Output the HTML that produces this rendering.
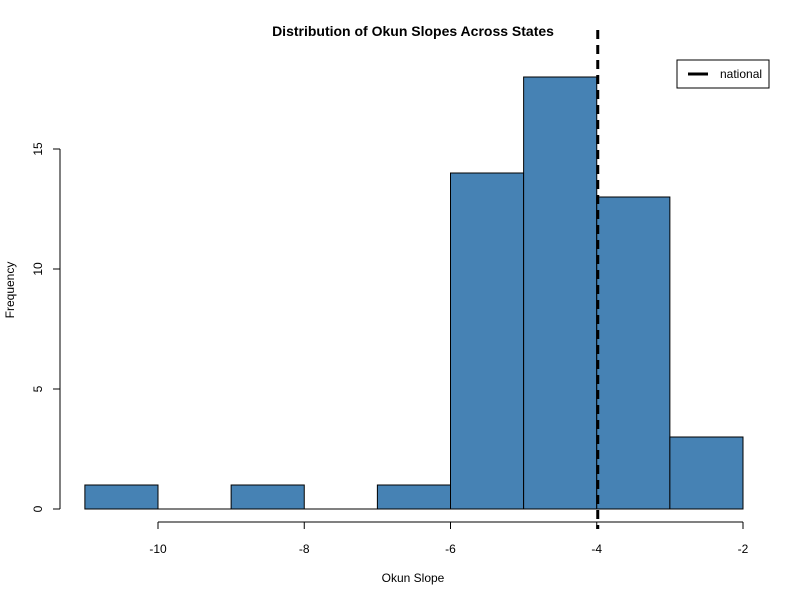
<!DOCTYPE html>
<html><head><meta charset="utf-8"><style>body{margin:0;background:#fff}svg{display:block;font-family:"Liberation Sans",Arial,sans-serif}</style></head>
<body>
<svg id="chart" width="800" height="600" viewBox="0 0 800 600">
<rect width="800" height="600" fill="#fff"/>
<text x="413" y="36" text-anchor="middle" font-size="14" font-weight="bold">Distribution of Okun Slopes Across States</text>
<text x="413" y="582" text-anchor="middle" font-size="12">Okun Slope</text>
<text transform="translate(14,290) rotate(-90)" text-anchor="middle" font-size="12">Frequency</text>
<g id="bars"></g><g id="axes"></g><g id="ref"></g>
<g>
<rect x="677" y="60" width="92" height="28" fill="#fff" stroke="#000"/>
<line x1="688" y1="74" x2="708" y2="74" stroke="#000" stroke-width="3"/>
<text x="720" y="78" font-size="12">national</text>
</g>
</svg>
<script>
const binStarts=[-11,-10,-9,-8,-7,-6,-5,-4,-3];
const binWidth=1;
const counts=[1,0,1,0,1,14,18,13,3];
const xTicks=[-10,-8,-6,-4,-2];
const yTicks=[0,5,10,15];
const nationalSlope=-4;
const NS='http://www.w3.org/2000/svg';
const sx=v=>158+(v+10)*73.125;
const sy=v=>509-v*24;
function mk(t,a,p){const e=document.createElementNS(NS,t);for(const k in a)e.setAttribute(k,a[k]);p.appendChild(e);return e;}
const bars=document.getElementById('bars');
binStarts.forEach((b,i)=>{
 let r;
 if(counts[i]>0){
  r=mk('rect',{x:sx(b),y:sy(counts[i]),width:sx(b+binWidth)-sx(b),height:sy(0)-sy(counts[i]),fill:'#4682B4',stroke:'#000','stroke-width':1},bars);
 } else {
  r=mk('line',{x1:sx(b),x2:sx(b+binWidth),y1:sy(0),y2:sy(0),stroke:'#000','stroke-width':1},bars);
 }
 
 
});
const ax=document.getElementById('axes');
const xa=mk('line',{x1:sx(xTicks[0]),x2:sx(xTicks[xTicks.length-1]),y1:522,y2:522,stroke:'#000'},ax);


xTicks.forEach(t=>{
 mk('line',{x1:sx(t),x2:sx(t),y1:522,y2:529,stroke:'#000'},ax);
 const tx=mk('text',{x:sx(t),y:553,'text-anchor':'middle','font-size':12},ax);tx.textContent=t;
 
 
});
const ya=mk('line',{x1:60,x2:60,y1:sy(yTicks[0]),y2:sy(yTicks[yTicks.length-1]),stroke:'#000'},ax);


yTicks.forEach(t=>{
 mk('line',{x1:53,x2:60,y1:sy(t),y2:sy(t),stroke:'#000'},ax);
 const tx=mk('text',{transform:`translate(42,${sy(t)}) rotate(-90)`,'text-anchor':'middle','font-size':12},ax);tx.textContent=t;
 
 
});
const rl=mk('line',{x1:sx(nationalSlope)+1,x2:sx(nationalSlope)+1,y1:30,y2:529,stroke:'#000','stroke-width':3,'stroke-dasharray':'9 6'},document.getElementById('ref'));


</script>
</body></html>
